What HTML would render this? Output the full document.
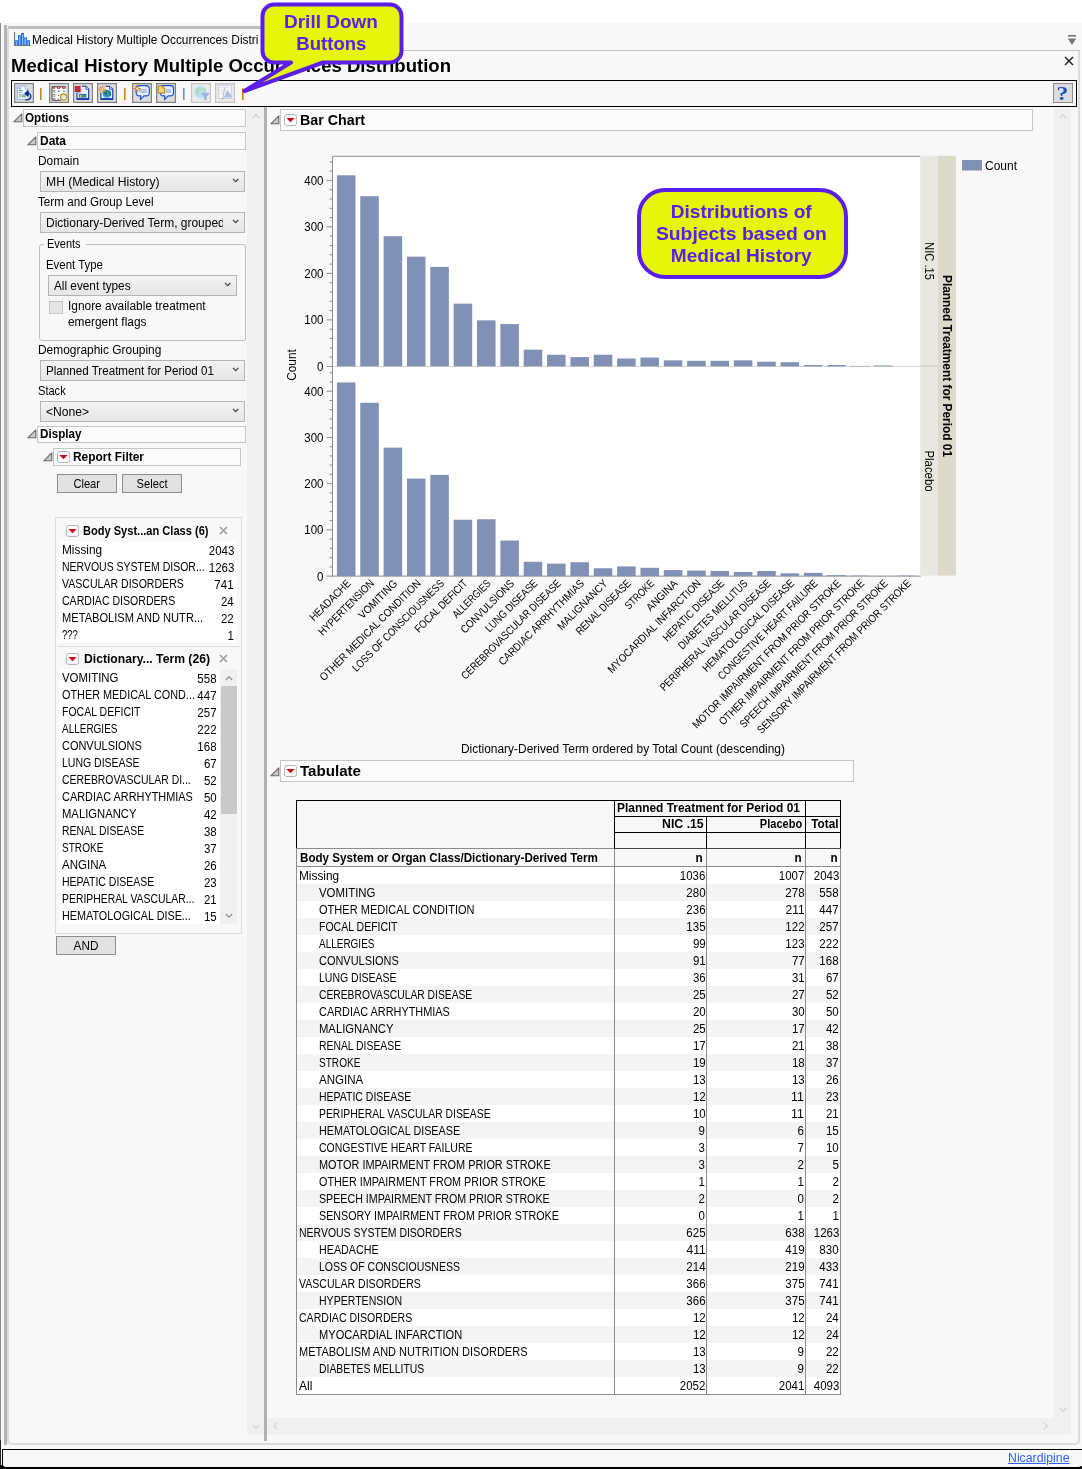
<!DOCTYPE html>
<html lang="en"><head><meta charset="utf-8"><title>Medical History Multiple Occurrences Distribution</title>
<style>
html,body{margin:0;padding:0;background:#fff;}
body{width:1082px;height:1469px;position:relative;overflow:hidden;font-family:"Liberation Sans",Arial,sans-serif;font-size:12.3px;color:#000;}
#app{position:absolute;left:0;top:0;width:1082px;height:1469px;overflow:hidden;}
#app div,#app svg,#app span{position:absolute;}
.t{white-space:nowrap;line-height:20px;display:block;}
</style></head><body><div id="app">
<div style="left:0px;top:23px;width:1082px;height:1446px;background:#f8f8f8;"></div>
<div style="left:0px;top:23px;width:1px;height:1420px;background:#8c8c8c;"></div>
<div style="left:0px;top:1440px;width:1px;height:29px;background:#222;"></div>
<div style="left:4px;top:25px;width:3px;height:1420px;background:#b4b4b4;"></div>
<div style="left:8px;top:26px;width:268px;height:3px;background:#bebebe;"></div>
<div style="left:7px;top:28px;width:1073px;height:1417px;box-sizing:border-box;border:2px solid #dcdcdc;border-top:none;border-radius:0 0 5px 5px;"></div>
<div style="left:1076px;top:24px;width:6px;height:26px;background:#f8f8f8;"></div>
<div style="left:276px;top:50px;width:804px;height:1px;background:#c4c4c4;"></div>
<svg style="left:14px;top:32px" width="17" height="14" viewBox="0 0 17 14"><rect x="0" y="0" width="1.100" height="14" fill="#707070"/><rect x="0" y="13" width="16.500" height="1" fill="#707070"/><g fill="#1f6fff"><rect x="1.200" y="8.200" width="2.700" height="4.800"/><rect x="4" y="3.200" width="2.800" height="9.800"/><rect x="7" y="1" width="2.900" height="12"/><rect x="10.300" y="5.200" width="2.700" height="7.800"/><rect x="13.200" y="8.200" width="2.800" height="4.800"/></g><g fill="#a9c9ff"><rect x="2.200" y="9.500" width=".8" height="3.500"/><rect x="5" y="4.500" width=".8" height="8.500"/><rect x="8" y="2.300" width=".8" height="10.700"/><rect x="11.300" y="6.500" width=".8" height="6.500"/><rect x="14.200" y="9.500" width=".8" height="3.500"/></g></svg>
<span class="t" style="top:30px;font-size:12.6px;left:32.3px;transform-origin:0 50%;transform:scaleX(0.9431);">Medical History Multiple Occurrences Distri</span>
<span class="t" style="top:56px;font-size:19px;font-weight:bold;left:11px;transform-origin:0 50%;transform:scaleX(0.9760);">Medical History Multiple Occurrences Distribution</span>
<svg style="left:1067px;top:34px" width="10" height="12" viewBox="0 0 10 12"><rect x="1" y="1" width="8" height="1.6" fill="#777"/><path d="M0.8 4.5h8.4L5 11z" fill="#777"/></svg>
<svg style="left:1064px;top:56px" width="10" height="10" viewBox="0 0 10 10"><path d="M1 1l8 8M9 1l-8 8" stroke="#222" stroke-width="1.5"/></svg>
<div style="left:11px;top:80px;width:1066px;height:27px;border:1px solid #000;box-sizing:border-box;"></div>
<div style="left:40px;top:88px;width:1px;height:12px;background:#c8861a;"></div>
<div style="left:41px;top:88px;width:1px;height:12px;background:#8cc4f8;"></div>
<div style="left:124px;top:88px;width:1px;height:12px;background:#c8861a;"></div>
<div style="left:125px;top:88px;width:1px;height:12px;background:#8cc4f8;"></div>
<div style="left:183px;top:88px;width:1px;height:12px;background:#c8861a;"></div>
<div style="left:184px;top:88px;width:1px;height:12px;background:#8cc4f8;"></div>
<div style="left:242px;top:88px;width:1px;height:12px;background:#c8861a;"></div>
<div style="left:243px;top:88px;width:1px;height:12px;background:#8cc4f8;"></div>
<svg style="left:14px;top:83px" width="20" height="20" viewBox="0 0 20 20"><rect x=".6" y=".6" width="18.800" height="18.800" fill="#dddddd" stroke="#808080" stroke-width="1.200"/><path d="M3.300 3h8l3 3.200v10.300h-11z" fill="#f6f9ff" stroke="#8aa8e0" stroke-width=".9"/><path d="M11.300 3v3.200h3" fill="#fff" stroke="#8aa8e0" stroke-width=".8"/><path d="M4.800 5.100h2" stroke="#2a50b0" stroke-width="1"/><path d="M4.800 7.400h3.800" stroke="#5a80d0" stroke-width="1"/><path d="M4.800 9.400h3.200" stroke="#7d9fe0" stroke-width="1"/><rect x="4.800" y="10.900" width="7" height="3.600" fill="#a8b8d8"/><rect x="5.900" y="11.800" width="2" height="2" fill="#f2da5a"/><path d="M8.700 14l1.500-2.300 1.500 2.300z" fill="#5cc05c"/><path d="M10.300 10.400l3.400-3.500 2 3.500-2 3.400z" fill="#0a30a0"/><path d="M15.500 10.800c1.600 1 1.700 3.400.6 4.700-1 1.200-2.800 1.600-4.900 1.400" fill="none" stroke="#0a30a0" stroke-width="1.300"/></svg>
<svg style="left:49px;top:83px" width="20" height="20" viewBox="0 0 20 20"><rect x=".6" y=".6" width="18.800" height="18.800" fill="#dddddd" stroke="#808080" stroke-width="1.200"/><rect x="3" y="3.200" width="13.700" height="14.100" fill="#fff"/><path d="M16.700 3.700h-13.700v13.600h9" fill="none" stroke="#444" stroke-width="1"/><g fill="none" stroke="#b42020" stroke-width="1"><path d="M3.900 4v1.200h1.800v-1.200M8.200 4v1.200h2.700v-1.200M13.400 4v1.200h2.800v-1.200"/></g><g fill="#fff" stroke="#888" stroke-width=".8"><rect x="3.900" y="7.500" width="2" height="1.600"/><rect x="3.900" y="11.600" width="2" height="1.600"/><rect x="3.900" y="15.300" width="2" height="1.500"/></g><path d="M8.700 8.300h2.200M14 8.300h2.200" stroke="#1f6fff" stroke-width="1.100"/><rect x="9" y="11.900" width="1.100" height="1.100" fill="#1f6fff"/><rect x="9" y="15.600" width="1.100" height="1.100" fill="#1f6fff"/><circle cx="14.500" cy="14.100" r="3.100" fill="#cfe8ff" stroke="#c89a10" stroke-width="1.300"/><circle cx="15.200" cy="14.800" r="1.500" fill="#f4faff"/></svg>
<svg style="left:73px;top:83px" width="20" height="20" viewBox="0 0 20 20"><rect x=".6" y=".6" width="18.800" height="18.800" fill="#dddddd" stroke="#808080" stroke-width="1.200"/><path d="M4 9.5V6.400L8 3.200H12.9L15.7 6.200V16H4z" fill="#f0f4ff"/><path d="M8.7 3.200H12.9L15.7 6.200V16.300H4V9.5" fill="none" stroke="#0a30a0" stroke-width="1.100"/><path d="M4 16h11.7" stroke="#0a30a0" stroke-width="1.600"/><path d="M12.9 3.200v3h2.800" fill="#fff" stroke="#0a30a0" stroke-width=".8"/><rect x="5.900" y="10.900" width="7.500" height="3.700" fill="#3a62c8"/><rect x="6.800" y="12" width="1.900" height="1.900" fill="#f4d020"/><rect x="9.800" y="12" width="3" height="1.900" fill="#20b040"/><path d="M8.300 6.500h1.500M8.300 8h.8M5 9.600h3.500" stroke="#4a70d0" stroke-width=".8" stroke-dasharray=".7 .6"/><rect x="1.800" y="3" width="5.800" height="5.700" fill="#d01828"/><rect x="3" y="4.200" width="3.600" height="3.500" fill="#b04048"/><path d="M1.800 8.400h5.800" stroke="#8c1018" stroke-width=".7"/></svg>
<svg style="left:97px;top:83px" width="20" height="20" viewBox="0 0 20 20"><rect x=".6" y=".6" width="18.800" height="18.800" fill="#dddddd" stroke="#808080" stroke-width="1.200"/><path d="M3.9 9.5V6.400L8 3.200H12.5L15.8 6.200V16H3.9z" fill="#f0f4ff"/><path d="M8.3 3.200H12.5L15.8 6.200V16.300H3.9V9.5" fill="none" stroke="#0a30a0" stroke-width="1.100"/><path d="M3.9 16h11.9" stroke="#0a30a0" stroke-width="1.600"/><path d="M12.5 3.200v3h2.800" fill="#fff" stroke="#0a30a0" stroke-width=".8"/><circle cx="10" cy="10.900" r="4.100" fill="#2a92ea"/><path d="M7 9c.8-1.400 2.400-1.800 3.200-1 .7.800-.3 1.600-.5 2.600-.2.900.4 1.700-.3 2.500-1.300-.3-2.800-2.200-2.400-4.100zM11.300 7.400c1.300.2 2.400 1.300 2.700 2.600.2 1.200-.6 2.600-1.500 3-.5-.8.200-1.700 0-2.700-.2-1-1.300-1.700-1.200-2.900z" fill="#1a8a50"/><path d="M7.200 13.200a4 4 0 0 0 5.600 0" stroke="#7fc4ff" stroke-width=".8" fill="none"/><g stroke="#f07818" stroke-width="1" stroke-linecap="round"><path d="M5.3 2.8v7M1.7999999999999998 6.3h7M2.8 3.8l5 5M7.8 3.8l-5 5"/></g><circle cx="5.3" cy="6.3" r="1.100" fill="#fff6e0"/></svg>
<svg style="left:132px;top:83px" width="20" height="20" viewBox="0 0 20 20"><rect x=".6" y=".6" width="18.800" height="18.800" fill="#dddddd" stroke="#808080" stroke-width="1.200"/><path d="M7 2.700h7.500a2.800 2.800 0 0 1 2.800 2.800v4.600a2.800 2.800 0 0 1-2.800 2.800h-2.500l-3.600 3.700.4-3.700h-1.800a2.800 2.800 0 0 1-2.800-2.800v-4.600a2.800 2.800 0 0 1 2.800-2.800z" fill="#eaf3ff" stroke="#1a50d0" stroke-width="1.200" stroke-linejoin="round"/><path d="M7.400 6.700h7.400M7.400 8.900h7.400" stroke="#7aa8e8" stroke-width="1.100"/><g stroke="#f07818" stroke-width="1" stroke-linecap="round"><path d="M5.2 2.0999999999999996v7M1.7000000000000002 5.6h7M2.7 3.0999999999999996l5 5M7.7 3.0999999999999996l-5 5"/></g><circle cx="5.2" cy="5.6" r="1.100" fill="#fff6e0"/></svg>
<svg style="left:156px;top:83px" width="20" height="20" viewBox="0 0 20 20"><rect x=".6" y=".6" width="18.800" height="18.800" fill="#dddddd" stroke="#808080" stroke-width="1.200"/><path d="M7.2 2.700h7.500a2.800 2.800 0 0 1 2.800 2.800v4.600a2.800 2.800 0 0 1-2.800 2.800h-2.500l-3.600 3.700.4-3.700h-1.800a2.800 2.800 0 0 1-2.800-2.800v-4.600a2.800 2.800 0 0 1 2.800-2.800z" fill="#eaf3ff" stroke="#1a50d0" stroke-width="1.200" stroke-linejoin="round"/><path d="M10 6.700h5M10 8.900h5" stroke="#7aa8e8" stroke-width="1.100"/><path d="M2.200 2.900h4.400l2.200 2.200v5h-6.600z" fill="#f7d468" stroke="#9c7610" stroke-width=".9"/><path d="M6.600 2.900v2.200h2.200" fill="#fff3c0" stroke="#9c7610" stroke-width=".7"/></svg>
<svg style="left:191px;top:83px" width="20" height="20" viewBox="0 0 20 20"><rect x=".6" y=".6" width="18.800" height="18.800" fill="#ececec" stroke="#c4c4c4" stroke-width="1.200"/><circle cx="9.400" cy="9" r="6.400" fill="#bfe0f4"/><path d="M5 6.200c2-2.600 5-2 5 0 0 1.600-2 1.800-2.200 3.600-.2 1.500.4 2.400-.6 3.400-1.800-.8-3.600-4.200-2.200-7zM11.500 4l2.600 1.600.9 3-3-.8z" fill="#b4dcb4"/><path d="M10.300 10.200h8.200l-3.100 3.400v3.200h-2v-3.200z" fill="#9bb8e6" stroke="#86a4d8" stroke-width=".5"/></svg>
<svg style="left:215px;top:83px" width="20" height="20" viewBox="0 0 20 20"><rect x=".6" y=".6" width="18.800" height="18.800" fill="#ececec" stroke="#c4c4c4" stroke-width="1.200"/><rect x="3.700" y="2.300" width="12.600" height="13.200" fill="#f8f8fb" stroke="#c4c8d4" stroke-width=".8"/><path d="M5.500 4.500h9M5.500 6.500h9M5.500 8.500h9M5.500 10.500h9" stroke="#ccd2e0" stroke-width=".8" stroke-dasharray="1.400 1"/><path d="M12.600 7.200l4.800 7.400h-8.800z" fill="#a9bfea"/><path d="M9.800 4.500l-2.400 12.500" stroke="#a0a0a8" stroke-width=".7"/></svg>
<div style="left:1053px;top:83px;width:20px;height:20px;box-sizing:border-box;background:#dcdcdc;border:1px solid #8c8c8c"></div>
<span class="t" style="top:84px;font-size:18px;font-weight:bold;color:#1f4fc4;left:1057.50px;transform-origin:50% 50%;transform:scaleX(1.3187);font-family:&quot;Liberation Serif&quot;,serif;">?</span>
<svg style="left:13px;top:112.6px" width="10" height="10" viewBox="0 0 10 10"><path d="M8.800 .8v8h-8z" fill="#c9c9c9" stroke="#6a6a6a" stroke-width="1.100" stroke-linejoin="round"/></svg>
<div style="left:23px;top:109px;width:223px;height:18px;background:#fbfbfb;border:1px solid #c6c6c6;box-sizing:border-box;"></div>
<span class="t" style="top:108px;font-size:12.6px;font-weight:bold;left:25px;transform-origin:0 50%;transform:scaleX(0.9245);">Options</span>
<svg style="left:27px;top:135.7px" width="10" height="10" viewBox="0 0 10 10"><path d="M8.800 .8v8h-8z" fill="#c9c9c9" stroke="#6a6a6a" stroke-width="1.100" stroke-linejoin="round"/></svg>
<div style="left:37px;top:132px;width:209px;height:18px;background:#fbfbfb;border:1px solid #c6c6c6;box-sizing:border-box;"></div>
<span class="t" style="top:131px;font-size:12.6px;font-weight:bold;left:40px;transform-origin:0 50%;transform:scaleX(0.9520);">Data</span>
<span class="t" style="top:151px;font-size:12.3px;left:38px;transform-origin:0 50%;transform:scaleX(0.9684);">Domain</span>
<div style="left:40px;top:171px;width:205px;height:21px;border:1px solid #b4b4b4;box-sizing:border-box;background:linear-gradient(#f3f3f3,#e6e6e6);"></div>
<span class="t" style="top:172px;font-size:12.3px;left:46px;transform-origin:0 50%;transform:scaleX(0.9894);">MH (Medical History)</span>
<svg style="left:232.4px;top:178.2px" width="8" height="6" viewBox="0 0 8 6"><path d="M1 .8l2.700 2.900 2.700-2.900" fill="none" stroke="#3c3c3c" stroke-width="1.200"/></svg>
<span class="t" style="top:192px;font-size:12.3px;left:38px;transform-origin:0 50%;transform:scaleX(0.9493);">Term and Group Level</span>
<div style="left:40px;top:212px;width:205px;height:21px;border:1px solid #b4b4b4;box-sizing:border-box;background:linear-gradient(#f3f3f3,#e6e6e6);"></div>
<div style="left:46px;top:212px;width:177px;height:21px;overflow:hidden"><span class="t" style="top:1px;font-size:12.3px;left:0px;transform-origin:0 50%;transform:scaleX(0.9734);">Dictionary-Derived Term, grouped</span></div>
<svg style="left:232.4px;top:219.2px" width="8" height="6" viewBox="0 0 8 6"><path d="M1 .8l2.700 2.900 2.700-2.900" fill="none" stroke="#3c3c3c" stroke-width="1.200"/></svg>
<div style="left:39px;top:244px;width:207px;height:97px;border:1px solid #bebebe;box-sizing:border-box;border-radius:3px;"></div>
<div style="left:44px;top:240px;width:42px;height:10px;background:#f8f8f8;"></div>
<span class="t" style="top:234px;font-size:12.3px;left:47px;transform-origin:0 50%;transform:scaleX(0.8937);">Events</span>
<span class="t" style="top:255px;font-size:12.3px;left:46px;transform-origin:0 50%;transform:scaleX(0.9281);">Event Type</span>
<div style="left:48px;top:275px;width:189px;height:21px;border:1px solid #b4b4b4;box-sizing:border-box;background:linear-gradient(#f3f3f3,#e6e6e6);"></div>
<span class="t" style="top:276px;font-size:12.3px;left:54px;transform-origin:0 50%;transform:scaleX(0.9573);">All event types</span>
<svg style="left:224.4px;top:282.2px" width="8" height="6" viewBox="0 0 8 6"><path d="M1 .8l2.700 2.900 2.700-2.900" fill="none" stroke="#3c3c3c" stroke-width="1.200"/></svg>
<div style="left:49px;top:301px;width:14px;height:13px;background:#e6e6e6;border:1px solid #c6c6c6;box-sizing:border-box;"></div>
<span class="t" style="top:296px;font-size:12.3px;left:68px;transform-origin:0 50%;transform:scaleX(0.9675);">Ignore available treatment</span>
<span class="t" style="top:312px;font-size:12.3px;left:68px;transform-origin:0 50%;transform:scaleX(0.9640);">emergent flags</span>
<span class="t" style="top:340px;font-size:12.3px;left:38px;transform-origin:0 50%;transform:scaleX(0.9704);">Demographic Grouping</span>
<div style="left:40px;top:360px;width:205px;height:21px;border:1px solid #b4b4b4;box-sizing:border-box;background:linear-gradient(#f3f3f3,#e6e6e6);"></div>
<span class="t" style="top:361px;font-size:12.3px;left:46px;transform-origin:0 50%;transform:scaleX(0.9450);">Planned Treatment for Period 01</span>
<svg style="left:232.4px;top:367.2px" width="8" height="6" viewBox="0 0 8 6"><path d="M1 .8l2.700 2.900 2.700-2.900" fill="none" stroke="#3c3c3c" stroke-width="1.200"/></svg>
<span class="t" style="top:381px;font-size:12.3px;left:38px;transform-origin:0 50%;transform:scaleX(0.9006);">Stack</span>
<div style="left:40px;top:401px;width:205px;height:21px;border:1px solid #b4b4b4;box-sizing:border-box;background:linear-gradient(#f3f3f3,#e6e6e6);"></div>
<span class="t" style="top:402px;font-size:12.3px;left:46px;transform-origin:0 50%;transform:scaleX(0.9869);">&lt;None&gt;</span>
<svg style="left:232.4px;top:408.2px" width="8" height="6" viewBox="0 0 8 6"><path d="M1 .8l2.700 2.900 2.700-2.900" fill="none" stroke="#3c3c3c" stroke-width="1.200"/></svg>
<svg style="left:27px;top:429px" width="10" height="10" viewBox="0 0 10 10"><path d="M8.800 .8v8h-8z" fill="#c9c9c9" stroke="#6a6a6a" stroke-width="1.100" stroke-linejoin="round"/></svg>
<div style="left:37px;top:425.5px;width:209px;height:17px;background:#fbfbfb;border:1px solid #c6c6c6;box-sizing:border-box;"></div>
<span class="t" style="top:424px;font-size:12.6px;font-weight:bold;left:40px;transform-origin:0 50%;transform:scaleX(0.9259);">Display</span>
<svg style="left:43px;top:451.5px" width="10" height="10" viewBox="0 0 10 10"><path d="M8.800 .8v8h-8z" fill="#c9c9c9" stroke="#6a6a6a" stroke-width="1.100" stroke-linejoin="round"/></svg>
<div style="left:53px;top:448px;width:188px;height:18px;background:#fbfbfb;border:1px solid #c6c6c6;box-sizing:border-box;"></div>
<svg style="left:57px;top:451px" width="13" height="12" viewBox="0 0 13 12"><rect x=".5" y=".5" width="12.200" height="11" rx="2.500" fill="#fdfdfd" stroke="#b4b4b4"/><path d="M2.400 4h8.200l-4.100 4.200z" fill="#cc0a12"/></svg>
<span class="t" style="top:447px;font-size:12.3px;font-weight:bold;left:72.5px;transform-origin:0 50%;transform:scaleX(0.9710);">Report Filter</span>
<div style="left:57px;top:474px;width:60px;height:19px;background:#e2e2e2;border:1px solid #8e8e8e;box-sizing:border-box;"></div>
<span class="t" style="top:474px;font-size:12.3px;left:72.30px;transform-origin:50% 50%;transform:scaleX(0.9035);">Clear</span>
<div style="left:122px;top:474px;width:60px;height:19px;background:#e2e2e2;border:1px solid #8e8e8e;box-sizing:border-box;"></div>
<span class="t" style="top:474px;font-size:12.3px;left:134.91px;transform-origin:50% 50%;transform:scaleX(0.9082);">Select</span>
<div style="left:55px;top:517px;width:187px;height:417px;border:1px solid #dcdcdc;box-sizing:border-box;"></div>
<svg style="left:66px;top:525px" width="13" height="12" viewBox="0 0 13 12"><rect x=".5" y=".5" width="12.200" height="11" rx="2.500" fill="#fdfdfd" stroke="#b4b4b4"/><path d="M2.400 4h8.200l-4.100 4.200z" fill="#cc0a12"/></svg>
<span class="t" style="top:521px;font-size:12.3px;font-weight:bold;left:83px;transform-origin:0 50%;transform:scaleX(0.9000);">Body Syst...an Class (6)</span>
<svg style="left:218.6px;top:526px" width="9" height="9" viewBox="0 0 9 9"><path d="M1 1l7 7M8 1l-7 7" stroke="#9a9a9a" stroke-width="1.600"/></svg>
<div style="left:59px;top:541px;width:178px;height:102px;background:#fff;"></div>
<span class="t" style="top:540px;font-size:12.3px;left:62px;transform-origin:0 50%;transform:scaleX(0.9617);">Missing</span>
<span class="t" style="top:541px;font-size:12.3px;right:848px;transform-origin:100% 50%;transform:scaleX(0.9338);">2043</span>
<span class="t" style="top:557px;font-size:12.3px;left:62px;transform-origin:0 50%;transform:scaleX(0.8532);">NERVOUS SYSTEM DISOR...</span>
<span class="t" style="top:558px;font-size:12.3px;right:848px;transform-origin:100% 50%;transform:scaleX(0.9338);">1263</span>
<span class="t" style="top:574px;font-size:12.3px;left:62px;transform-origin:0 50%;transform:scaleX(0.8584);">VASCULAR DISORDERS</span>
<span class="t" style="top:575px;font-size:12.3px;right:848px;transform-origin:100% 50%;transform:scaleX(0.9338);">741</span>
<span class="t" style="top:591px;font-size:12.3px;left:62px;transform-origin:0 50%;transform:scaleX(0.8586);">CARDIAC DISORDERS</span>
<span class="t" style="top:592px;font-size:12.3px;right:848px;transform-origin:100% 50%;transform:scaleX(0.9338);">24</span>
<span class="t" style="top:608px;font-size:12.3px;left:62px;transform-origin:0 50%;transform:scaleX(0.9036);">METABOLISM AND NUTR...</span>
<span class="t" style="top:609px;font-size:12.3px;right:848px;transform-origin:100% 50%;transform:scaleX(0.9338);">22</span>
<span class="t" style="top:625px;font-size:12.3px;left:62px;transform-origin:0 50%;transform:scaleX(0.7765);">???</span>
<span class="t" style="top:626px;font-size:12.3px;right:848px;transform-origin:100% 50%;transform:scaleX(0.9338);">1</span>
<div style="left:58px;top:646px;width:182px;height:1px;background:#dcdcdc;"></div>
<svg style="left:66px;top:653px" width="13" height="12" viewBox="0 0 13 12"><rect x=".5" y=".5" width="12.200" height="11" rx="2.500" fill="#fdfdfd" stroke="#b4b4b4"/><path d="M2.400 4h8.200l-4.100 4.200z" fill="#cc0a12"/></svg>
<span class="t" style="top:649px;font-size:12.3px;font-weight:bold;left:84px;transform-origin:0 50%;transform:scaleX(0.9893);">Dictionary... Term (26)</span>
<svg style="left:219px;top:654px" width="9" height="9" viewBox="0 0 9 9"><path d="M1 1l7 7M8 1l-7 7" stroke="#9a9a9a" stroke-width="1.600"/></svg>
<div style="left:59px;top:669px;width:161px;height:255px;background:#fff;"></div>
<div style="left:220px;top:669px;width:17px;height:255px;background:#f0f0f0;"></div>
<div style="left:221px;top:686px;width:16px;height:128px;background:#c9c9c9;"></div>
<svg style="left:225px;top:675px" width="8" height="6" viewBox="0 0 8 6"><path d="M.8 5l3.200-3.200L7.200 5" fill="none" stroke="#8a8a8a" stroke-width="1.100"/></svg>
<svg style="left:225px;top:913px" width="8" height="6" viewBox="0 0 8 6"><path d="M.8 1l3.200 3.200L7.200 1" fill="none" stroke="#8a8a8a" stroke-width="1.100"/></svg>
<span class="t" style="top:668px;font-size:12.3px;left:62px;transform-origin:0 50%;transform:scaleX(0.9283);">VOMITING</span>
<span class="t" style="top:669px;font-size:12.3px;right:865px;transform-origin:100% 50%;transform:scaleX(0.9338);">558</span>
<span class="t" style="top:685px;font-size:12.3px;left:62px;transform-origin:0 50%;transform:scaleX(0.8830);">OTHER MEDICAL COND...</span>
<span class="t" style="top:686px;font-size:12.3px;right:865px;transform-origin:100% 50%;transform:scaleX(0.9338);">447</span>
<span class="t" style="top:702px;font-size:12.3px;left:62px;transform-origin:0 50%;transform:scaleX(0.8547);">FOCAL DEFICIT</span>
<span class="t" style="top:703px;font-size:12.3px;right:865px;transform-origin:100% 50%;transform:scaleX(0.9338);">257</span>
<span class="t" style="top:719px;font-size:12.3px;left:62px;transform-origin:0 50%;transform:scaleX(0.8112);">ALLERGIES</span>
<span class="t" style="top:720px;font-size:12.3px;right:865px;transform-origin:100% 50%;transform:scaleX(0.9338);">222</span>
<span class="t" style="top:736px;font-size:12.3px;left:62px;transform-origin:0 50%;transform:scaleX(0.8909);">CONVULSIONS</span>
<span class="t" style="top:737px;font-size:12.3px;right:865px;transform-origin:100% 50%;transform:scaleX(0.9338);">168</span>
<span class="t" style="top:753px;font-size:12.3px;left:62px;transform-origin:0 50%;transform:scaleX(0.8541);">LUNG DISEASE</span>
<span class="t" style="top:754px;font-size:12.3px;right:865px;transform-origin:100% 50%;transform:scaleX(0.9338);">67</span>
<span class="t" style="top:770px;font-size:12.3px;left:62px;transform-origin:0 50%;transform:scaleX(0.8461);">CEREBROVASCULAR DI...</span>
<span class="t" style="top:771px;font-size:12.3px;right:865px;transform-origin:100% 50%;transform:scaleX(0.9338);">52</span>
<span class="t" style="top:787px;font-size:12.3px;left:62px;transform-origin:0 50%;transform:scaleX(0.8869);">CARDIAC ARRHYTHMIAS</span>
<span class="t" style="top:788px;font-size:12.3px;right:865px;transform-origin:100% 50%;transform:scaleX(0.9338);">50</span>
<span class="t" style="top:804px;font-size:12.3px;left:62px;transform-origin:0 50%;transform:scaleX(0.9149);">MALIGNANCY</span>
<span class="t" style="top:805px;font-size:12.3px;right:865px;transform-origin:100% 50%;transform:scaleX(0.9338);">42</span>
<span class="t" style="top:821px;font-size:12.3px;left:62px;transform-origin:0 50%;transform:scaleX(0.8439);">RENAL DISEASE</span>
<span class="t" style="top:822px;font-size:12.3px;right:865px;transform-origin:100% 50%;transform:scaleX(0.9338);">38</span>
<span class="t" style="top:838px;font-size:12.3px;left:62px;transform-origin:0 50%;transform:scaleX(0.8185);">STROKE</span>
<span class="t" style="top:839px;font-size:12.3px;right:865px;transform-origin:100% 50%;transform:scaleX(0.9338);">37</span>
<span class="t" style="top:855px;font-size:12.3px;left:62px;transform-origin:0 50%;transform:scaleX(0.9393);">ANGINA</span>
<span class="t" style="top:856px;font-size:12.3px;right:865px;transform-origin:100% 50%;transform:scaleX(0.9338);">26</span>
<span class="t" style="top:872px;font-size:12.3px;left:62px;transform-origin:0 50%;transform:scaleX(0.8537);">HEPATIC DISEASE</span>
<span class="t" style="top:873px;font-size:12.3px;right:865px;transform-origin:100% 50%;transform:scaleX(0.9338);">23</span>
<span class="t" style="top:889px;font-size:12.3px;left:62px;transform-origin:0 50%;transform:scaleX(0.8460);">PERIPHERAL VASCULAR...</span>
<span class="t" style="top:890px;font-size:12.3px;right:865px;transform-origin:100% 50%;transform:scaleX(0.9338);">21</span>
<span class="t" style="top:906px;font-size:12.3px;left:62px;transform-origin:0 50%;transform:scaleX(0.8785);">HEMATOLOGICAL DISE...</span>
<span class="t" style="top:907px;font-size:12.3px;right:865px;transform-origin:100% 50%;transform:scaleX(0.9338);">15</span>
<div style="left:56px;top:936px;width:60px;height:19px;background:#e2e2e2;border:1px solid #8e8e8e;box-sizing:border-box;"></div>
<span class="t" style="top:936px;font-size:12.3px;left:73.01px;transform-origin:50% 50%;transform:scaleX(0.9558);">AND</span>
<div style="left:247px;top:107px;width:17px;height:1328px;background:#f0f0f0;"></div>
<svg style="left:252.400px;top:112.600px" width="8" height="6" viewBox="0 0 8 6"><path d="M.8 5l3.200-3.200L7.200 5" fill="none" stroke="#d0d0d0" stroke-width="1.100"/></svg>
<svg style="left:252.400px;top:1424px" width="8" height="6" viewBox="0 0 8 6"><path d="M.8 1l3.200 3.200L7.200 1" fill="none" stroke="#d0d0d0" stroke-width="1.100"/></svg>
<div style="left:264px;top:107px;width:3px;height:1334px;background:#b0b0b0;"></div>
<svg style="left:270px;top:115px" width="10" height="10" viewBox="0 0 10 10"><path d="M8.800 .8v8h-8z" fill="#c9c9c9" stroke="#6a6a6a" stroke-width="1.100" stroke-linejoin="round"/></svg>
<div style="left:280px;top:109px;width:753px;height:22px;background:#fbfbfb;border:1px solid #c6c6c6;box-sizing:border-box;"></div>
<svg style="left:284.2px;top:114px" width="13" height="12" viewBox="0 0 13 12"><rect x=".5" y=".5" width="12.200" height="11" rx="2.500" fill="#fdfdfd" stroke="#b4b4b4"/><path d="M2.400 4h8.200l-4.100 4.200z" fill="#cc0a12"/></svg>
<span class="t" style="top:110px;font-size:14px;font-weight:bold;left:300px;transform-origin:0 50%;transform:scaleX(1.0189);">Bar Chart</span>
<svg style="left:0;top:0" width="1082" height="800" viewBox="0 0 1082 800" font-family="Liberation Sans, sans-serif"><rect x="332.5" y="156.3" width="587.8" height="419.8" fill="#fff"/><path d="M332.5 576.6V156.3H920.3M332.0 576.1H920.8" fill="none" stroke="#8c8c8c" stroke-width="1"/><path d="M333.0 366.4H920.3" stroke="#d4d4d4"/><rect x="336.90" y="175.28" width="18.55" height="191.12" fill="#8191b6"/><rect x="360.25" y="196.21" width="18.55" height="170.19" fill="#8191b6"/><rect x="383.60" y="236.20" width="18.55" height="130.20" fill="#8191b6"/><rect x="406.95" y="256.66" width="18.55" height="109.74" fill="#8191b6"/><rect x="430.30" y="266.89" width="18.55" height="99.51" fill="#8191b6"/><rect x="453.65" y="303.62" width="18.55" height="62.78" fill="#8191b6"/><rect x="477.00" y="320.36" width="18.55" height="46.04" fill="#8191b6"/><rect x="500.35" y="324.08" width="18.55" height="42.32" fill="#8191b6"/><rect x="523.70" y="349.66" width="18.55" height="16.74" fill="#8191b6"/><rect x="547.05" y="354.77" width="18.55" height="11.62" fill="#8191b6"/><rect x="570.40" y="357.10" width="18.55" height="9.30" fill="#8191b6"/><rect x="593.75" y="354.77" width="18.55" height="11.62" fill="#8191b6"/><rect x="617.10" y="358.50" width="18.55" height="7.91" fill="#8191b6"/><rect x="640.45" y="357.56" width="18.55" height="8.84" fill="#8191b6"/><rect x="663.80" y="360.35" width="18.55" height="6.04" fill="#8191b6"/><rect x="687.15" y="360.82" width="18.55" height="5.58" fill="#8191b6"/><rect x="710.50" y="360.82" width="18.55" height="5.58" fill="#8191b6"/><rect x="733.85" y="360.35" width="18.55" height="6.04" fill="#8191b6"/><rect x="757.20" y="361.75" width="18.55" height="4.65" fill="#8191b6"/><rect x="780.55" y="362.21" width="18.55" height="4.19" fill="#8191b6"/><rect x="803.90" y="365.00" width="18.55" height="1.40" fill="#8191b6"/><rect x="827.25" y="365.00" width="18.55" height="1.40" fill="#8191b6"/><rect x="850.60" y="365.94" width="18.55" height="0.47" fill="#8191b6"/><rect x="873.95" y="365.47" width="18.55" height="0.93" fill="#8191b6"/><path d="M326.5 366.40H332.5" stroke="#8c8c8c" stroke-width="1"/><text x="323.5" y="370.90" font-size="12.5" text-anchor="end" textLength="6.4" lengthAdjust="spacingAndGlyphs">0</text><path d="M329.5 357.10H332.5" stroke="#8c8c8c" stroke-width="1"/><path d="M329.5 347.80H332.5" stroke="#8c8c8c" stroke-width="1"/><path d="M329.5 338.50H332.5" stroke="#8c8c8c" stroke-width="1"/><path d="M329.5 329.20H332.5" stroke="#8c8c8c" stroke-width="1"/><path d="M326.5 319.90H332.5" stroke="#8c8c8c" stroke-width="1"/><text x="323.5" y="324.40" font-size="12.5" text-anchor="end" textLength="19.2" lengthAdjust="spacingAndGlyphs">100</text><path d="M329.5 310.60H332.5" stroke="#8c8c8c" stroke-width="1"/><path d="M329.5 301.30H332.5" stroke="#8c8c8c" stroke-width="1"/><path d="M329.5 292.00H332.5" stroke="#8c8c8c" stroke-width="1"/><path d="M329.5 282.70H332.5" stroke="#8c8c8c" stroke-width="1"/><path d="M326.5 273.40H332.5" stroke="#8c8c8c" stroke-width="1"/><text x="323.5" y="277.90" font-size="12.5" text-anchor="end" textLength="19.2" lengthAdjust="spacingAndGlyphs">200</text><path d="M329.5 264.10H332.5" stroke="#8c8c8c" stroke-width="1"/><path d="M329.5 254.80H332.5" stroke="#8c8c8c" stroke-width="1"/><path d="M329.5 245.50H332.5" stroke="#8c8c8c" stroke-width="1"/><path d="M329.5 236.20H332.5" stroke="#8c8c8c" stroke-width="1"/><path d="M326.5 226.90H332.5" stroke="#8c8c8c" stroke-width="1"/><text x="323.5" y="231.40" font-size="12.5" text-anchor="end" textLength="19.2" lengthAdjust="spacingAndGlyphs">300</text><path d="M329.5 217.60H332.5" stroke="#8c8c8c" stroke-width="1"/><path d="M329.5 208.30H332.5" stroke="#8c8c8c" stroke-width="1"/><path d="M329.5 199.00H332.5" stroke="#8c8c8c" stroke-width="1"/><path d="M329.5 189.70H332.5" stroke="#8c8c8c" stroke-width="1"/><path d="M326.5 180.40H332.5" stroke="#8c8c8c" stroke-width="1"/><text x="323.5" y="184.90" font-size="12.5" text-anchor="end" textLength="19.2" lengthAdjust="spacingAndGlyphs">400</text><path d="M329.5 171.10H332.5" stroke="#8c8c8c" stroke-width="1"/><path d="M329.5 161.80H332.5" stroke="#8c8c8c" stroke-width="1"/><rect x="336.90" y="382.44" width="18.55" height="193.66" fill="#8191b6"/><rect x="360.25" y="402.78" width="18.55" height="173.32" fill="#8191b6"/><rect x="383.60" y="447.61" width="18.55" height="128.49" fill="#8191b6"/><rect x="406.95" y="478.58" width="18.55" height="97.52" fill="#8191b6"/><rect x="430.30" y="474.88" width="18.55" height="101.22" fill="#8191b6"/><rect x="453.65" y="519.71" width="18.55" height="56.39" fill="#8191b6"/><rect x="477.00" y="519.25" width="18.55" height="56.85" fill="#8191b6"/><rect x="500.35" y="540.51" width="18.55" height="35.59" fill="#8191b6"/><rect x="523.70" y="561.77" width="18.55" height="14.33" fill="#8191b6"/><rect x="547.05" y="563.62" width="18.55" height="12.48" fill="#8191b6"/><rect x="570.40" y="562.23" width="18.55" height="13.87" fill="#8191b6"/><rect x="593.75" y="568.24" width="18.55" height="7.86" fill="#8191b6"/><rect x="617.10" y="566.39" width="18.55" height="9.71" fill="#8191b6"/><rect x="640.45" y="567.78" width="18.55" height="8.32" fill="#8191b6"/><rect x="663.80" y="570.09" width="18.55" height="6.01" fill="#8191b6"/><rect x="687.15" y="570.55" width="18.55" height="5.55" fill="#8191b6"/><rect x="710.50" y="571.02" width="18.55" height="5.08" fill="#8191b6"/><rect x="733.85" y="571.94" width="18.55" height="4.16" fill="#8191b6"/><rect x="757.20" y="571.02" width="18.55" height="5.08" fill="#8191b6"/><rect x="780.55" y="573.33" width="18.55" height="2.77" fill="#8191b6"/><rect x="803.90" y="572.86" width="18.55" height="3.24" fill="#8191b6"/><rect x="827.25" y="575.18" width="18.55" height="0.92" fill="#8191b6"/><rect x="850.60" y="575.64" width="18.55" height="0.46" fill="#8191b6"/><rect x="897.30" y="575.64" width="18.55" height="0.46" fill="#8191b6"/><path d="M326.5 576.10H332.5" stroke="#8c8c8c" stroke-width="1"/><text x="323.5" y="580.60" font-size="12.5" text-anchor="end" textLength="6.4" lengthAdjust="spacingAndGlyphs">0</text><path d="M329.5 566.86H332.5" stroke="#8c8c8c" stroke-width="1"/><path d="M329.5 557.61H332.5" stroke="#8c8c8c" stroke-width="1"/><path d="M329.5 548.37H332.5" stroke="#8c8c8c" stroke-width="1"/><path d="M329.5 539.12H332.5" stroke="#8c8c8c" stroke-width="1"/><path d="M326.5 529.88H332.5" stroke="#8c8c8c" stroke-width="1"/><text x="323.5" y="534.38" font-size="12.5" text-anchor="end" textLength="19.2" lengthAdjust="spacingAndGlyphs">100</text><path d="M329.5 520.64H332.5" stroke="#8c8c8c" stroke-width="1"/><path d="M329.5 511.39H332.5" stroke="#8c8c8c" stroke-width="1"/><path d="M329.5 502.15H332.5" stroke="#8c8c8c" stroke-width="1"/><path d="M329.5 492.90H332.5" stroke="#8c8c8c" stroke-width="1"/><path d="M326.5 483.66H332.5" stroke="#8c8c8c" stroke-width="1"/><text x="323.5" y="488.16" font-size="12.5" text-anchor="end" textLength="19.2" lengthAdjust="spacingAndGlyphs">200</text><path d="M329.5 474.42H332.5" stroke="#8c8c8c" stroke-width="1"/><path d="M329.5 465.17H332.5" stroke="#8c8c8c" stroke-width="1"/><path d="M329.5 455.93H332.5" stroke="#8c8c8c" stroke-width="1"/><path d="M329.5 446.68H332.5" stroke="#8c8c8c" stroke-width="1"/><path d="M326.5 437.44H332.5" stroke="#8c8c8c" stroke-width="1"/><text x="323.5" y="441.94" font-size="12.5" text-anchor="end" textLength="19.2" lengthAdjust="spacingAndGlyphs">300</text><path d="M329.5 428.20H332.5" stroke="#8c8c8c" stroke-width="1"/><path d="M329.5 418.95H332.5" stroke="#8c8c8c" stroke-width="1"/><path d="M329.5 409.71H332.5" stroke="#8c8c8c" stroke-width="1"/><path d="M329.5 400.46H332.5" stroke="#8c8c8c" stroke-width="1"/><path d="M326.5 391.22H332.5" stroke="#8c8c8c" stroke-width="1"/><text x="323.5" y="395.72" font-size="12.5" text-anchor="end" textLength="19.2" lengthAdjust="spacingAndGlyphs">400</text><path d="M329.5 381.98H332.5" stroke="#8c8c8c" stroke-width="1"/><path d="M329.5 372.73H332.5" stroke="#8c8c8c" stroke-width="1"/><rect x="920.3" y="155.8" width="17.700" height="419.8" fill="#e8e8e0"/><path d="M920.3 366.09999999999997h17.700" stroke="#d6d6cc" stroke-width="1.600"/><rect x="938.0" y="155.8" width="17.900" height="419.8" fill="#dcdacb"/><text transform="translate(925.0,261) rotate(90)" font-size="12.3" text-anchor="middle" textLength="37.9" lengthAdjust="spacingAndGlyphs">NIC .15</text><text transform="translate(925.0,471) rotate(90)" font-size="12.3" text-anchor="middle" textLength="41.2" lengthAdjust="spacingAndGlyphs">Placebo</text><text transform="translate(942.7,366) rotate(90)" font-size="12.3" text-anchor="middle" font-weight="bold" textLength="182.0" lengthAdjust="spacingAndGlyphs">Planned Treatment for Period 01</text><text transform="translate(296,365) rotate(-90)" font-size="12.3" text-anchor="middle" textLength="31.7" lengthAdjust="spacingAndGlyphs">Count</text><text transform="translate(351.38,584.10) rotate(-45)" font-size="10.9" text-anchor="end" textLength="52.9" lengthAdjust="spacingAndGlyphs">HEADACHE</text><text transform="translate(374.72,584.10) rotate(-45)" font-size="10.9" text-anchor="end" textLength="73.5" lengthAdjust="spacingAndGlyphs">HYPERTENSION</text><text transform="translate(398.07,584.10) rotate(-45)" font-size="10.9" text-anchor="end" textLength="50.0" lengthAdjust="spacingAndGlyphs">VOMITING</text><text transform="translate(421.43,584.10) rotate(-45)" font-size="10.9" text-anchor="end" textLength="137.7" lengthAdjust="spacingAndGlyphs">OTHER MEDICAL CONDITION</text><text transform="translate(444.77,584.10) rotate(-45)" font-size="10.9" text-anchor="end" textLength="124.8" lengthAdjust="spacingAndGlyphs">LOSS OF CONSCIOUSNESS</text><text transform="translate(468.12,584.10) rotate(-45)" font-size="10.9" text-anchor="end" textLength="69.4" lengthAdjust="spacingAndGlyphs">FOCAL DEFICIT</text><text transform="translate(491.47,584.10) rotate(-45)" font-size="10.9" text-anchor="end" textLength="49.1" lengthAdjust="spacingAndGlyphs">ALLERGIES</text><text transform="translate(514.83,584.10) rotate(-45)" font-size="10.9" text-anchor="end" textLength="70.6" lengthAdjust="spacingAndGlyphs">CONVULSIONS</text><text transform="translate(538.18,584.10) rotate(-45)" font-size="10.9" text-anchor="end" textLength="68.7" lengthAdjust="spacingAndGlyphs">LUNG DISEASE</text><text transform="translate(561.53,584.10) rotate(-45)" font-size="10.9" text-anchor="end" textLength="135.7" lengthAdjust="spacingAndGlyphs">CEREBROVASCULAR DISEASE</text><text transform="translate(584.88,584.10) rotate(-45)" font-size="10.9" text-anchor="end" textLength="115.9" lengthAdjust="spacingAndGlyphs">CARDIAC ARRHYTHMIAS</text><text transform="translate(608.23,584.10) rotate(-45)" font-size="10.9" text-anchor="end" textLength="65.9" lengthAdjust="spacingAndGlyphs">MALIGNANCY</text><text transform="translate(631.58,584.10) rotate(-45)" font-size="10.9" text-anchor="end" textLength="72.7" lengthAdjust="spacingAndGlyphs">RENAL DISEASE</text><text transform="translate(654.93,584.10) rotate(-45)" font-size="10.9" text-anchor="end" textLength="36.6" lengthAdjust="spacingAndGlyphs">STROKE</text><text transform="translate(678.28,584.10) rotate(-45)" font-size="10.9" text-anchor="end" textLength="39.2" lengthAdjust="spacingAndGlyphs">ANGINA</text><text transform="translate(701.62,584.10) rotate(-45)" font-size="10.9" text-anchor="end" textLength="126.7" lengthAdjust="spacingAndGlyphs">MYOCARDIAL INFARCTION</text><text transform="translate(724.98,584.10) rotate(-45)" font-size="10.9" text-anchor="end" textLength="81.8" lengthAdjust="spacingAndGlyphs">HEPATIC DISEASE</text><text transform="translate(748.33,584.10) rotate(-45)" font-size="10.9" text-anchor="end" textLength="93.1" lengthAdjust="spacingAndGlyphs">DIABETES MELLITUS</text><text transform="translate(771.68,584.10) rotate(-45)" font-size="10.9" text-anchor="end" textLength="151.9" lengthAdjust="spacingAndGlyphs">PERIPHERAL VASCULAR DISEASE</text><text transform="translate(795.03,584.10) rotate(-45)" font-size="10.9" text-anchor="end" textLength="124.9" lengthAdjust="spacingAndGlyphs">HEMATOLOGICAL DISEASE</text><text transform="translate(818.38,584.10) rotate(-45)" font-size="10.9" text-anchor="end" textLength="135.9" lengthAdjust="spacingAndGlyphs">CONGESTIVE HEART FAILURE</text><text transform="translate(841.73,584.10) rotate(-45)" font-size="10.9" text-anchor="end" textLength="205.1" lengthAdjust="spacingAndGlyphs">MOTOR IMPAIRMENT FROM PRIOR STROKE</text><text transform="translate(865.08,584.10) rotate(-45)" font-size="10.9" text-anchor="end" textLength="200.5" lengthAdjust="spacingAndGlyphs">OTHER IMPAIRMENT FROM PRIOR STROKE</text><text transform="translate(888.43,584.10) rotate(-45)" font-size="10.9" text-anchor="end" textLength="204.1" lengthAdjust="spacingAndGlyphs">SPEECH IMPAIRMENT FROM PRIOR STROKE</text><text transform="translate(911.78,584.10) rotate(-45)" font-size="10.9" text-anchor="end" textLength="212.4" lengthAdjust="spacingAndGlyphs">SENSORY IMPAIRMENT FROM PRIOR STROKE</text><text x="461" y="753.2" font-size="12.3" textLength="324" lengthAdjust="spacingAndGlyphs">Dictionary-Derived Term ordered by Total Count (descending)</text><rect x="962" y="160" width="20" height="10.500" fill="#8191b6"/><text x="985" y="170" font-size="12.3" textLength="32" lengthAdjust="spacingAndGlyphs">Count</text></svg>
<svg style="left:270px;top:767px" width="10" height="10" viewBox="0 0 10 10"><path d="M8.800 .8v8h-8z" fill="#c9c9c9" stroke="#6a6a6a" stroke-width="1.100" stroke-linejoin="round"/></svg>
<div style="left:280px;top:760px;width:574px;height:22px;background:#fbfbfb;border:1px solid #c6c6c6;box-sizing:border-box;"></div>
<svg style="left:284.2px;top:765px" width="13" height="12" viewBox="0 0 13 12"><rect x=".5" y=".5" width="12.200" height="11" rx="2.500" fill="#fdfdfd" stroke="#b4b4b4"/><path d="M2.400 4h8.200l-4.100 4.200z" fill="#cc0a12"/></svg>
<span class="t" style="top:761px;font-size:14px;font-weight:bold;left:300px;transform-origin:0 50%;transform:scaleX(1.0791);">Tabulate</span>
<div style="left:296px;top:867px;width:544px;height:527px;background:#fff;"></div>
<div style="left:296px;top:884px;width:544px;height:17px;background:#f4f4f4;"></div>
<div style="left:296px;top:918px;width:544px;height:17px;background:#f4f4f4;"></div>
<div style="left:296px;top:952px;width:544px;height:17px;background:#f4f4f4;"></div>
<div style="left:296px;top:986px;width:544px;height:17px;background:#f4f4f4;"></div>
<div style="left:296px;top:1020px;width:544px;height:17px;background:#f4f4f4;"></div>
<div style="left:296px;top:1054px;width:544px;height:17px;background:#f4f4f4;"></div>
<div style="left:296px;top:1088px;width:544px;height:17px;background:#f4f4f4;"></div>
<div style="left:296px;top:1122px;width:544px;height:17px;background:#f4f4f4;"></div>
<div style="left:296px;top:1156px;width:544px;height:17px;background:#f4f4f4;"></div>
<div style="left:296px;top:1190px;width:544px;height:17px;background:#f4f4f4;"></div>
<div style="left:296px;top:1224px;width:544px;height:17px;background:#f4f4f4;"></div>
<div style="left:296px;top:1258px;width:544px;height:17px;background:#f4f4f4;"></div>
<div style="left:296px;top:1292px;width:544px;height:17px;background:#f4f4f4;"></div>
<div style="left:296px;top:1326px;width:544px;height:17px;background:#f4f4f4;"></div>
<div style="left:296px;top:1360px;width:544px;height:17px;background:#f4f4f4;"></div>
<div style="left:296px;top:800px;width:545px;height:1px;background:#000;"></div>
<div style="left:296px;top:800px;width:1px;height:48px;background:#000;"></div>
<div style="left:614px;top:800px;width:1px;height:48px;background:#000;"></div>
<div style="left:805px;top:800px;width:1px;height:48px;background:#000;"></div>
<div style="left:840px;top:800px;width:1px;height:48px;background:#000;"></div>
<div style="left:706px;top:816px;width:1px;height:32px;background:#000;"></div>
<div style="left:614px;top:816px;width:226px;height:1px;background:#000;"></div>
<div style="left:614px;top:832px;width:226px;height:1px;background:#000;"></div>
<div style="left:296px;top:848px;width:545px;height:1px;background:#8c8c8c;"></div>
<div style="left:614px;top:848px;width:227px;height:1px;background:#444;"></div>
<div style="left:296px;top:866px;width:545px;height:1px;background:#8c8c8c;"></div>
<div style="left:296px;top:1394px;width:545px;height:1px;background:#8c8c8c;"></div>
<div style="left:296px;top:849px;width:1px;height:545px;background:#8c8c8c;"></div>
<div style="left:614px;top:849px;width:1px;height:545px;background:#8c8c8c;"></div>
<div style="left:706px;top:849px;width:1px;height:545px;background:#8c8c8c;"></div>
<div style="left:805px;top:849px;width:1px;height:545px;background:#8c8c8c;"></div>
<div style="left:840px;top:849px;width:1px;height:545px;background:#8c8c8c;"></div>
<span class="t" style="top:798px;font-size:12.3px;font-weight:bold;left:617px;transform-origin:0 50%;transform:scaleX(0.9700);">Planned Treatment for Period 01</span>
<span class="t" style="top:814px;font-size:12.3px;font-weight:bold;right:378.8px;transform-origin:100% 50%;transform:scaleX(0.9976);">NIC .15</span>
<span class="t" style="top:814px;font-size:12.3px;font-weight:bold;right:280.3px;transform-origin:100% 50%;transform:scaleX(0.8967);">Placebo</span>
<span class="t" style="top:814px;font-size:12.3px;font-weight:bold;right:243.7px;transform-origin:100% 50%;transform:scaleX(0.9554);">Total</span>
<span class="t" style="top:848px;font-size:12.3px;font-weight:bold;left:299.5px;transform-origin:0 50%;transform:scaleX(0.9464);">Body System or Organ Class/Dictionary-Derived Term</span>
<span class="t" style="top:848px;font-size:12.3px;font-weight:bold;right:379px;transform-origin:100% 50%;transform:scaleX(0.9489);">n</span>
<span class="t" style="top:848px;font-size:12.3px;font-weight:bold;right:280.3px;transform-origin:100% 50%;transform:scaleX(0.9489);">n</span>
<span class="t" style="top:848px;font-size:12.3px;font-weight:bold;right:244.5px;transform-origin:100% 50%;transform:scaleX(0.9489);">n</span>
<span class="t" style="top:866px;font-size:12.3px;left:299px;transform-origin:0 50%;transform:scaleX(0.9617);">Missing</span>
<span class="t" style="top:866px;font-size:12.3px;right:376.8px;transform-origin:100% 50%;transform:scaleX(0.9338);">1036</span>
<span class="t" style="top:866px;font-size:12.3px;right:277.8px;transform-origin:100% 50%;transform:scaleX(0.9338);">1007</span>
<span class="t" style="top:866px;font-size:12.3px;right:243px;transform-origin:100% 50%;transform:scaleX(0.9338);">2043</span>
<span class="t" style="top:883px;font-size:12.3px;left:319px;transform-origin:0 50%;transform:scaleX(0.9283);">VOMITING</span>
<span class="t" style="top:883px;font-size:12.3px;right:376.8px;transform-origin:100% 50%;transform:scaleX(0.9338);">280</span>
<span class="t" style="top:883px;font-size:12.3px;right:277.8px;transform-origin:100% 50%;transform:scaleX(0.9338);">278</span>
<span class="t" style="top:883px;font-size:12.3px;right:243px;transform-origin:100% 50%;transform:scaleX(0.9338);">558</span>
<span class="t" style="top:900px;font-size:12.3px;left:319px;transform-origin:0 50%;transform:scaleX(0.8986);">OTHER MEDICAL CONDITION</span>
<span class="t" style="top:900px;font-size:12.3px;right:376.8px;transform-origin:100% 50%;transform:scaleX(0.9338);">236</span>
<span class="t" style="top:900px;font-size:12.3px;right:277.8px;transform-origin:100% 50%;transform:scaleX(0.9772);">211</span>
<span class="t" style="top:900px;font-size:12.3px;right:243px;transform-origin:100% 50%;transform:scaleX(0.9338);">447</span>
<span class="t" style="top:917px;font-size:12.3px;left:319px;transform-origin:0 50%;transform:scaleX(0.8547);">FOCAL DEFICIT</span>
<span class="t" style="top:917px;font-size:12.3px;right:376.8px;transform-origin:100% 50%;transform:scaleX(0.9338);">135</span>
<span class="t" style="top:917px;font-size:12.3px;right:277.8px;transform-origin:100% 50%;transform:scaleX(0.9338);">122</span>
<span class="t" style="top:917px;font-size:12.3px;right:243px;transform-origin:100% 50%;transform:scaleX(0.9338);">257</span>
<span class="t" style="top:934px;font-size:12.3px;left:319px;transform-origin:0 50%;transform:scaleX(0.8112);">ALLERGIES</span>
<span class="t" style="top:934px;font-size:12.3px;right:376.8px;transform-origin:100% 50%;transform:scaleX(0.9338);">99</span>
<span class="t" style="top:934px;font-size:12.3px;right:277.8px;transform-origin:100% 50%;transform:scaleX(0.9338);">123</span>
<span class="t" style="top:934px;font-size:12.3px;right:243px;transform-origin:100% 50%;transform:scaleX(0.9338);">222</span>
<span class="t" style="top:951px;font-size:12.3px;left:319px;transform-origin:0 50%;transform:scaleX(0.8909);">CONVULSIONS</span>
<span class="t" style="top:951px;font-size:12.3px;right:376.8px;transform-origin:100% 50%;transform:scaleX(0.9338);">91</span>
<span class="t" style="top:951px;font-size:12.3px;right:277.8px;transform-origin:100% 50%;transform:scaleX(0.9338);">77</span>
<span class="t" style="top:951px;font-size:12.3px;right:243px;transform-origin:100% 50%;transform:scaleX(0.9338);">168</span>
<span class="t" style="top:968px;font-size:12.3px;left:319px;transform-origin:0 50%;transform:scaleX(0.8541);">LUNG DISEASE</span>
<span class="t" style="top:968px;font-size:12.3px;right:376.8px;transform-origin:100% 50%;transform:scaleX(0.9338);">36</span>
<span class="t" style="top:968px;font-size:12.3px;right:277.8px;transform-origin:100% 50%;transform:scaleX(0.9338);">31</span>
<span class="t" style="top:968px;font-size:12.3px;right:243px;transform-origin:100% 50%;transform:scaleX(0.9338);">67</span>
<span class="t" style="top:985px;font-size:12.3px;left:319px;transform-origin:0 50%;transform:scaleX(0.8378);">CEREBROVASCULAR DISEASE</span>
<span class="t" style="top:985px;font-size:12.3px;right:376.8px;transform-origin:100% 50%;transform:scaleX(0.9338);">25</span>
<span class="t" style="top:985px;font-size:12.3px;right:277.8px;transform-origin:100% 50%;transform:scaleX(0.9338);">27</span>
<span class="t" style="top:985px;font-size:12.3px;right:243px;transform-origin:100% 50%;transform:scaleX(0.9338);">52</span>
<span class="t" style="top:1002px;font-size:12.3px;left:319px;transform-origin:0 50%;transform:scaleX(0.8869);">CARDIAC ARRHYTHMIAS</span>
<span class="t" style="top:1002px;font-size:12.3px;right:376.8px;transform-origin:100% 50%;transform:scaleX(0.9338);">20</span>
<span class="t" style="top:1002px;font-size:12.3px;right:277.8px;transform-origin:100% 50%;transform:scaleX(0.9338);">30</span>
<span class="t" style="top:1002px;font-size:12.3px;right:243px;transform-origin:100% 50%;transform:scaleX(0.9338);">50</span>
<span class="t" style="top:1019px;font-size:12.3px;left:319px;transform-origin:0 50%;transform:scaleX(0.9149);">MALIGNANCY</span>
<span class="t" style="top:1019px;font-size:12.3px;right:376.8px;transform-origin:100% 50%;transform:scaleX(0.9338);">25</span>
<span class="t" style="top:1019px;font-size:12.3px;right:277.8px;transform-origin:100% 50%;transform:scaleX(0.9338);">17</span>
<span class="t" style="top:1019px;font-size:12.3px;right:243px;transform-origin:100% 50%;transform:scaleX(0.9338);">42</span>
<span class="t" style="top:1036px;font-size:12.3px;left:319px;transform-origin:0 50%;transform:scaleX(0.8439);">RENAL DISEASE</span>
<span class="t" style="top:1036px;font-size:12.3px;right:376.8px;transform-origin:100% 50%;transform:scaleX(0.9338);">17</span>
<span class="t" style="top:1036px;font-size:12.3px;right:277.8px;transform-origin:100% 50%;transform:scaleX(0.9338);">21</span>
<span class="t" style="top:1036px;font-size:12.3px;right:243px;transform-origin:100% 50%;transform:scaleX(0.9338);">38</span>
<span class="t" style="top:1053px;font-size:12.3px;left:319px;transform-origin:0 50%;transform:scaleX(0.8185);">STROKE</span>
<span class="t" style="top:1053px;font-size:12.3px;right:376.8px;transform-origin:100% 50%;transform:scaleX(0.9338);">19</span>
<span class="t" style="top:1053px;font-size:12.3px;right:277.8px;transform-origin:100% 50%;transform:scaleX(0.9338);">18</span>
<span class="t" style="top:1053px;font-size:12.3px;right:243px;transform-origin:100% 50%;transform:scaleX(0.9338);">37</span>
<span class="t" style="top:1070px;font-size:12.3px;left:319px;transform-origin:0 50%;transform:scaleX(0.9393);">ANGINA</span>
<span class="t" style="top:1070px;font-size:12.3px;right:376.8px;transform-origin:100% 50%;transform:scaleX(0.9338);">13</span>
<span class="t" style="top:1070px;font-size:12.3px;right:277.8px;transform-origin:100% 50%;transform:scaleX(0.9338);">13</span>
<span class="t" style="top:1070px;font-size:12.3px;right:243px;transform-origin:100% 50%;transform:scaleX(0.9338);">26</span>
<span class="t" style="top:1087px;font-size:12.3px;left:319px;transform-origin:0 50%;transform:scaleX(0.8537);">HEPATIC DISEASE</span>
<span class="t" style="top:1087px;font-size:12.3px;right:376.8px;transform-origin:100% 50%;transform:scaleX(0.9338);">12</span>
<span class="t" style="top:1087px;font-size:12.3px;right:277.8px;transform-origin:100% 50%;transform:scaleX(1.0005);">11</span>
<span class="t" style="top:1087px;font-size:12.3px;right:243px;transform-origin:100% 50%;transform:scaleX(0.9338);">23</span>
<span class="t" style="top:1104px;font-size:12.3px;left:319px;transform-origin:0 50%;transform:scaleX(0.8455);">PERIPHERAL VASCULAR DISEASE</span>
<span class="t" style="top:1104px;font-size:12.3px;right:376.8px;transform-origin:100% 50%;transform:scaleX(0.9338);">10</span>
<span class="t" style="top:1104px;font-size:12.3px;right:277.8px;transform-origin:100% 50%;transform:scaleX(1.0005);">11</span>
<span class="t" style="top:1104px;font-size:12.3px;right:243px;transform-origin:100% 50%;transform:scaleX(0.9338);">21</span>
<span class="t" style="top:1121px;font-size:12.3px;left:319px;transform-origin:0 50%;transform:scaleX(0.8761);">HEMATOLOGICAL DISEASE</span>
<span class="t" style="top:1121px;font-size:12.3px;right:376.8px;transform-origin:100% 50%;transform:scaleX(0.9338);">9</span>
<span class="t" style="top:1121px;font-size:12.3px;right:277.8px;transform-origin:100% 50%;transform:scaleX(0.9338);">6</span>
<span class="t" style="top:1121px;font-size:12.3px;right:243px;transform-origin:100% 50%;transform:scaleX(0.9338);">15</span>
<span class="t" style="top:1138px;font-size:12.3px;left:319px;transform-origin:0 50%;transform:scaleX(0.8529);">CONGESTIVE HEART FAILURE</span>
<span class="t" style="top:1138px;font-size:12.3px;right:376.8px;transform-origin:100% 50%;transform:scaleX(0.9338);">3</span>
<span class="t" style="top:1138px;font-size:12.3px;right:277.8px;transform-origin:100% 50%;transform:scaleX(0.9338);">7</span>
<span class="t" style="top:1138px;font-size:12.3px;right:243px;transform-origin:100% 50%;transform:scaleX(0.9338);">10</span>
<span class="t" style="top:1155px;font-size:12.3px;left:319px;transform-origin:0 50%;transform:scaleX(0.8877);">MOTOR IMPAIRMENT FROM PRIOR STROKE</span>
<span class="t" style="top:1155px;font-size:12.3px;right:376.8px;transform-origin:100% 50%;transform:scaleX(0.9338);">3</span>
<span class="t" style="top:1155px;font-size:12.3px;right:277.8px;transform-origin:100% 50%;transform:scaleX(0.9338);">2</span>
<span class="t" style="top:1155px;font-size:12.3px;right:243px;transform-origin:100% 50%;transform:scaleX(0.9338);">5</span>
<span class="t" style="top:1172px;font-size:12.3px;left:319px;transform-origin:0 50%;transform:scaleX(0.8763);">OTHER IMPAIRMENT FROM PRIOR STROKE</span>
<span class="t" style="top:1172px;font-size:12.3px;right:376.8px;transform-origin:100% 50%;transform:scaleX(0.9338);">1</span>
<span class="t" style="top:1172px;font-size:12.3px;right:277.8px;transform-origin:100% 50%;transform:scaleX(0.9338);">1</span>
<span class="t" style="top:1172px;font-size:12.3px;right:243px;transform-origin:100% 50%;transform:scaleX(0.9338);">2</span>
<span class="t" style="top:1189px;font-size:12.3px;left:319px;transform-origin:0 50%;transform:scaleX(0.8669);">SPEECH IMPAIRMENT FROM PRIOR STROKE</span>
<span class="t" style="top:1189px;font-size:12.3px;right:376.8px;transform-origin:100% 50%;transform:scaleX(0.9338);">2</span>
<span class="t" style="top:1189px;font-size:12.3px;right:277.8px;transform-origin:100% 50%;transform:scaleX(0.9338);">0</span>
<span class="t" style="top:1189px;font-size:12.3px;right:243px;transform-origin:100% 50%;transform:scaleX(0.9338);">2</span>
<span class="t" style="top:1206px;font-size:12.3px;left:319px;transform-origin:0 50%;transform:scaleX(0.8719);">SENSORY IMPAIRMENT FROM PRIOR STROKE</span>
<span class="t" style="top:1206px;font-size:12.3px;right:376.8px;transform-origin:100% 50%;transform:scaleX(0.9338);">0</span>
<span class="t" style="top:1206px;font-size:12.3px;right:277.8px;transform-origin:100% 50%;transform:scaleX(0.9338);">1</span>
<span class="t" style="top:1206px;font-size:12.3px;right:243px;transform-origin:100% 50%;transform:scaleX(0.9338);">1</span>
<span class="t" style="top:1223px;font-size:12.3px;left:299px;transform-origin:0 50%;transform:scaleX(0.8510);">NERVOUS SYSTEM DISORDERS</span>
<span class="t" style="top:1223px;font-size:12.3px;right:376.8px;transform-origin:100% 50%;transform:scaleX(0.9338);">625</span>
<span class="t" style="top:1223px;font-size:12.3px;right:277.8px;transform-origin:100% 50%;transform:scaleX(0.9338);">638</span>
<span class="t" style="top:1223px;font-size:12.3px;right:243px;transform-origin:100% 50%;transform:scaleX(0.9338);">1263</span>
<span class="t" style="top:1240px;font-size:12.3px;left:319px;transform-origin:0 50%;transform:scaleX(0.8742);">HEADACHE</span>
<span class="t" style="top:1240px;font-size:12.3px;right:376.8px;transform-origin:100% 50%;transform:scaleX(0.9772);">411</span>
<span class="t" style="top:1240px;font-size:12.3px;right:277.8px;transform-origin:100% 50%;transform:scaleX(0.9338);">419</span>
<span class="t" style="top:1240px;font-size:12.3px;right:243px;transform-origin:100% 50%;transform:scaleX(0.9338);">830</span>
<span class="t" style="top:1257px;font-size:12.3px;left:319px;transform-origin:0 50%;transform:scaleX(0.8563);">LOSS OF CONSCIOUSNESS</span>
<span class="t" style="top:1257px;font-size:12.3px;right:376.8px;transform-origin:100% 50%;transform:scaleX(0.9338);">214</span>
<span class="t" style="top:1257px;font-size:12.3px;right:277.8px;transform-origin:100% 50%;transform:scaleX(0.9338);">219</span>
<span class="t" style="top:1257px;font-size:12.3px;right:243px;transform-origin:100% 50%;transform:scaleX(0.9338);">433</span>
<span class="t" style="top:1274px;font-size:12.3px;left:299px;transform-origin:0 50%;transform:scaleX(0.8584);">VASCULAR DISORDERS</span>
<span class="t" style="top:1274px;font-size:12.3px;right:376.8px;transform-origin:100% 50%;transform:scaleX(0.9338);">366</span>
<span class="t" style="top:1274px;font-size:12.3px;right:277.8px;transform-origin:100% 50%;transform:scaleX(0.9338);">375</span>
<span class="t" style="top:1274px;font-size:12.3px;right:243px;transform-origin:100% 50%;transform:scaleX(0.9338);">741</span>
<span class="t" style="top:1291px;font-size:12.3px;left:319px;transform-origin:0 50%;transform:scaleX(0.8580);">HYPERTENSION</span>
<span class="t" style="top:1291px;font-size:12.3px;right:376.8px;transform-origin:100% 50%;transform:scaleX(0.9338);">366</span>
<span class="t" style="top:1291px;font-size:12.3px;right:277.8px;transform-origin:100% 50%;transform:scaleX(0.9338);">375</span>
<span class="t" style="top:1291px;font-size:12.3px;right:243px;transform-origin:100% 50%;transform:scaleX(0.9338);">741</span>
<span class="t" style="top:1308px;font-size:12.3px;left:299px;transform-origin:0 50%;transform:scaleX(0.8586);">CARDIAC DISORDERS</span>
<span class="t" style="top:1308px;font-size:12.3px;right:376.8px;transform-origin:100% 50%;transform:scaleX(0.9338);">12</span>
<span class="t" style="top:1308px;font-size:12.3px;right:277.8px;transform-origin:100% 50%;transform:scaleX(0.9338);">12</span>
<span class="t" style="top:1308px;font-size:12.3px;right:243px;transform-origin:100% 50%;transform:scaleX(0.9338);">24</span>
<span class="t" style="top:1325px;font-size:12.3px;left:319px;transform-origin:0 50%;transform:scaleX(0.9017);">MYOCARDIAL INFARCTION</span>
<span class="t" style="top:1325px;font-size:12.3px;right:376.8px;transform-origin:100% 50%;transform:scaleX(0.9338);">12</span>
<span class="t" style="top:1325px;font-size:12.3px;right:277.8px;transform-origin:100% 50%;transform:scaleX(0.9338);">12</span>
<span class="t" style="top:1325px;font-size:12.3px;right:243px;transform-origin:100% 50%;transform:scaleX(0.9338);">24</span>
<span class="t" style="top:1342px;font-size:12.3px;left:299px;transform-origin:0 50%;transform:scaleX(0.8950);">METABOLISM AND NUTRITION DISORDERS</span>
<span class="t" style="top:1342px;font-size:12.3px;right:376.8px;transform-origin:100% 50%;transform:scaleX(0.9338);">13</span>
<span class="t" style="top:1342px;font-size:12.3px;right:277.8px;transform-origin:100% 50%;transform:scaleX(0.9338);">9</span>
<span class="t" style="top:1342px;font-size:12.3px;right:243px;transform-origin:100% 50%;transform:scaleX(0.9338);">22</span>
<span class="t" style="top:1359px;font-size:12.3px;left:319px;transform-origin:0 50%;transform:scaleX(0.8459);">DIABETES MELLITUS</span>
<span class="t" style="top:1359px;font-size:12.3px;right:376.8px;transform-origin:100% 50%;transform:scaleX(0.9338);">13</span>
<span class="t" style="top:1359px;font-size:12.3px;right:277.8px;transform-origin:100% 50%;transform:scaleX(0.9338);">9</span>
<span class="t" style="top:1359px;font-size:12.3px;right:243px;transform-origin:100% 50%;transform:scaleX(0.9338);">22</span>
<span class="t" style="top:1376px;font-size:12.3px;left:299px;transform-origin:0 50%;transform:scaleX(0.9790);">All</span>
<span class="t" style="top:1376px;font-size:12.3px;right:376.8px;transform-origin:100% 50%;transform:scaleX(0.9338);">2052</span>
<span class="t" style="top:1376px;font-size:12.3px;right:277.8px;transform-origin:100% 50%;transform:scaleX(0.9338);">2041</span>
<span class="t" style="top:1376px;font-size:12.3px;right:243px;transform-origin:100% 50%;transform:scaleX(0.9338);">4093</span>
<div style="left:1054px;top:108px;width:17px;height:1327px;background:#f0f0f0;"></div>
<div style="left:267px;top:1418px;width:788px;height:17px;background:#f0f0f0;"></div>
<svg style="left:1059.3px;top:112.6px" width="8" height="6" viewBox="0 0 8 6"><path d="M.8 5l3.200-3.200L7.200 5" fill="none" stroke="#d0d0d0" stroke-width="1.100"/></svg>
<svg style="left:1059.3px;top:1407px" width="8" height="6" viewBox="0 0 8 6"><path d="M.8 1l3.200 3.200L7.200 1" fill="none" stroke="#d0d0d0" stroke-width="1.100"/></svg>
<svg style="left:272px;top:1422px" width="6" height="8" viewBox="0 0 6 8"><path d="M5 .8L1.800 4 5 7.200" fill="none" stroke="#d0d0d0" stroke-width="1.100"/></svg>
<svg style="left:1043px;top:1422px" width="6" height="8" viewBox="0 0 6 8"><path d="M1 .8L4.200 4 1 7.200" fill="none" stroke="#d0d0d0" stroke-width="1.100"/></svg>
<div style="left:2px;top:1449px;width:1082px;height:21px;border:1px solid #000;box-sizing:border-box;border-bottom-width:3px;border-radius:0 0 6px 5px;"></div>
<div style="left:0px;top:1465px;width:4px;height:4px;background:#000;border-radius:0 3px 0 0;"></div>
<span class="t" style="top:1448px;font-size:12.3px;color:#2962ff;left:1008px;transform-origin:0 50%;transform:scaleX(0.9995);text-decoration:underline;">Nicardipine</span>
<svg style="left:230px;top:0" width="190" height="100" viewBox="230 0 190 100"><path d="M274 4.500h116a11.500 11.500 0 0 1 11.500 11.500v35a11.500 11.500 0 0 1-11.500 11.500h-67L244.500 91l46.500-28.500h-17a11.500 11.500 0 0 1-11.500-11.500v-35a11.500 11.500 0 0 1 11.500-11.500z" fill="#e6f60a" stroke="#5a1ee8" stroke-width="4" stroke-linejoin="round"/></svg>
<span class="t" style="top:12px;font-size:18.2px;font-weight:bold;color:#5a1ee8;left:286.01px;transform-origin:50% 50%;transform:scaleX(1.0446);">Drill Down</span>
<span class="t" style="top:34px;font-size:18.2px;font-weight:bold;color:#5a1ee8;left:296.63px;transform-origin:50% 50%;transform:scaleX(1.0183);">Buttons</span>
<div style="left:637px;top:188px;width:211px;height:91px;box-sizing:border-box;border:4px solid #5a1ee8;border-radius:28px;background:#e6f60a"></div>
<span class="t" style="top:202px;font-size:18.2px;font-weight:bold;color:#5a1ee8;left:673.77px;transform-origin:50% 50%;transform:scaleX(1.0486);">Distributions of</span>
<span class="t" style="top:224px;font-size:18.2px;font-weight:bold;color:#5a1ee8;left:660.60px;transform-origin:50% 50%;transform:scaleX(1.0634);">Subjects based on</span>
<span class="t" style="top:246px;font-size:18.2px;font-weight:bold;color:#5a1ee8;left:673.74px;transform-origin:50% 50%;transform:scaleX(1.0482);">Medical History</span>
</div></body></html>
